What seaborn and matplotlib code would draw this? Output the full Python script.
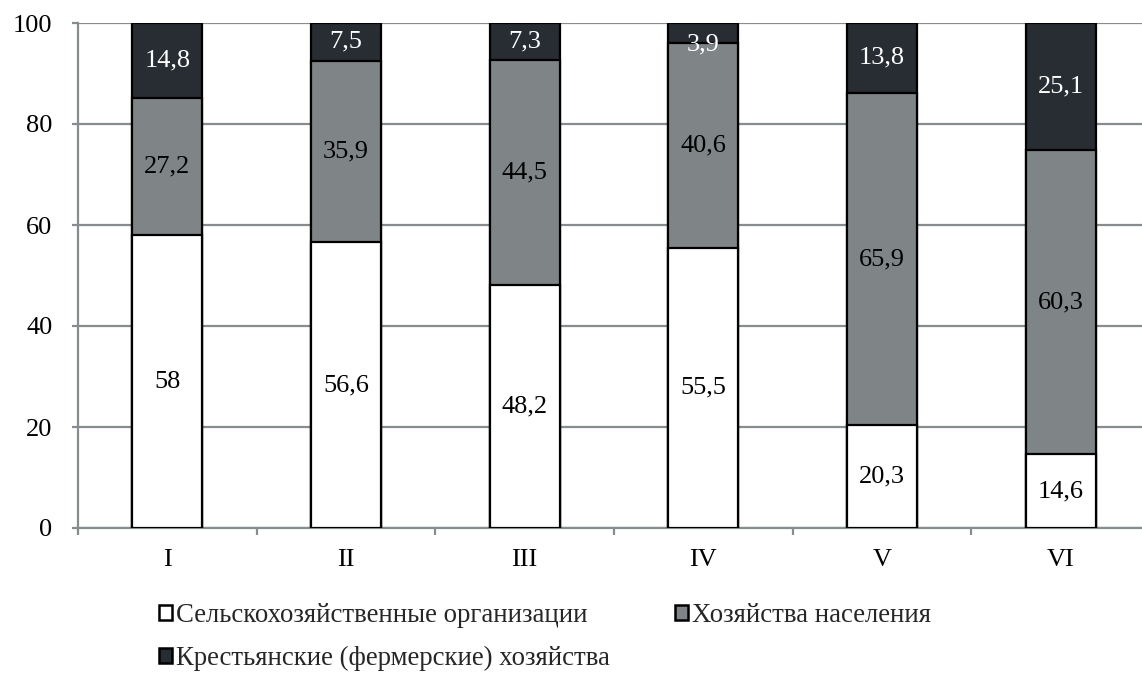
import matplotlib
matplotlib.use("Agg")
import matplotlib.pyplot as plt
import seaborn as sns
import pandas as pd
import numpy as np
from matplotlib.patches import Patch

categories = ["I", "II", "III", "IV", "V", "VI"]
agri_orgs = [58, 56.6, 48.2, 55.5, 20.3, 14.6]
households = [27.2, 35.9, 44.5, 40.6, 65.9, 60.3]
farms = [14.8, 7.5, 7.3, 3.9, 13.8, 25.1]
series_names = [
    "Сельскохозяйственные организации",
    "Хозяйства населения",
    "Крестьянские (фермерские) хозяйства",
]
colors = ["#ffffff", "#7f8486", "#282c33"]
label_colors = ["black", "black", "white"]
grid_color = "#878c8f"

sns.set_theme(style="white")
plt.rcParams["font.family"] = ["Liberation Serif", "DejaVu Serif"]

fig = plt.figure(figsize=(11.42, 6.73), dpi=100)
ax = fig.add_axes([78 / 1142, 1 - 528 / 673, 1072 / 1142, 505 / 673])

series = [agri_orgs, households, farms]
cum = np.cumsum(np.array(series), axis=0)
df = pd.DataFrame({"cat": categories})

# draw cumulative totals from the top down so lower segments overlay
for i in range(2, -1, -1):
    df["val"] = cum[i]
    sns.barplot(data=df, x="cat", y="val", order=categories, color=colors[i],
                saturation=1, edgecolor="black", linewidth=1.6, width=0.39,
                ax=ax, zorder=3)

# value labels
for i, vals in enumerate(series):
    bottoms = cum[i] - np.array(vals)
    for j, v in enumerate(vals):
        y = bottoms[j] + v / 2
        if v < 5:
            y = bottoms[j] - 0.3
        ax.text(j, y, f"{v:g}".replace(".", ","), ha="center", va="center",
                fontsize=19, color=label_colors[i], zorder=4)

ax.set_xlim(-0.5, 5.5)
ax.set_ylim(0, 100)
ax.set_yticks([0, 20, 40, 60, 80, 100])
ax.yaxis.grid(True, color=grid_color, linewidth=1.6, zorder=0)
ax.set_axisbelow(True)
ax.set_xlabel("")
ax.set_ylabel("")

for s in ["top", "right"]:
    ax.spines[s].set_visible(False)
for s in ["left", "bottom"]:
    ax.spines[s].set_color(grid_color)
    ax.spines[s].set_linewidth(1.6)

ax.tick_params(axis="y", which="major", length=4.3, width=1.6, color=grid_color,
               labelsize=19, pad=14, left=True)
ax.tick_params(axis="x", which="major", length=0, labelsize=19, pad=15)
ax.set_xticks(np.arange(-0.5, 6, 1), minor=True)
ax.tick_params(axis="x", which="minor", length=5, width=1.6, color=grid_color,
               bottom=True)
for lab in ax.get_xticklabels() + ax.get_yticklabels():
    lab.set_color("black")

handles = [Patch(facecolor=c, edgecolor="black", linewidth=1.8) for c in colors]
order = [0, 2, 1]
fig.legend([handles[k] for k in order], [series_names[k] for k in order],
           ncol=2, loc="upper left", bbox_to_anchor=(159 / 1142, 1 - 603 / 673),
           frameon=False, fontsize=19.3, handlelength=0.5, handleheight=0.5,
           handletextpad=0.15, columnspacing=2.4, labelspacing=0.68,
           borderpad=0, borderaxespad=0)

fig.savefig("out.png", dpi=100)
